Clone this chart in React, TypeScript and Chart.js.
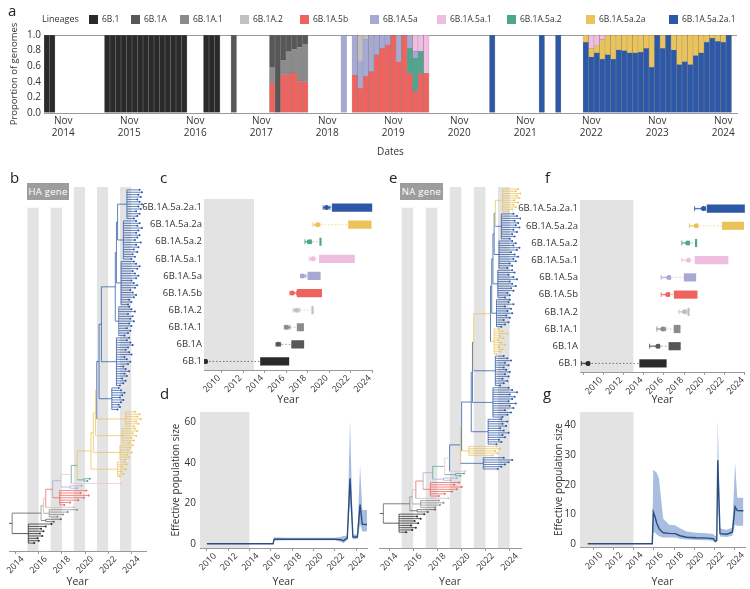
import React, { useEffect, useRef } from 'react';
import { Chart, registerables } from 'chart.js';

Chart.register(...registerables);

const FONT_FAMILY = '"Open Sans", "DejaVu Sans", sans-serif';
const TEXT_COLOR = '#333333';
const BAND_COLOR = '#e3e3e3';
const AXIS_COLOR = '#9a9a9a';

const LINEAGES = ['6B.1', '6B.1A', '6B.1A.1', '6B.1A.2', '6B.1A.5b', '6B.1A.5a', '6B.1A.5a.1', '6B.1A.5a.2', '6B.1A.5a.2a', '6B.1A.5a.2a.1'];
const LINEAGE_COLORS = ['#2a2a2a', '#575757', '#8b8b8b', '#c0c0c0', '#f0625e', '#a6a9d3', '#eebde0', '#4ea68f', '#ebc35b', '#2c58a7'];

// ---------- panel a: monthly lineage proportions ----------
const FIRST_MONTH = [2014, 8];
const MONTH_COUNT = 126;
const MONTHS = Array.from({ length: MONTH_COUNT }, (_, i) => {
  const m = FIRST_MONTH[1] - 1 + i;
  return `${FIRST_MONTH[0] + Math.floor(m / 12)}-${String((m % 12) + 1).padStart(2, '0')}`;
});

const SHARE_6B1: [string, number][] = [
  ['2014-08', 1], ['2014-09', 1], ['2015-07', 1], ['2015-08', 1], ['2015-09', 1], ['2015-10', 1], ['2015-11', 1],
  ['2015-12', 1], ['2016-01', 1], ['2016-02', 1], ['2016-03', 1], ['2016-04', 1], ['2016-05', 1], ['2016-06', 1],
  ['2016-07', 1], ['2016-08', 1], ['2016-09', 1], ['2017-01', 1], ['2017-02', 1], ['2017-03', 1],
];
const SHARE_6B1A: [string, number][] = [
  ['2017-06', 1], ['2018-01', 0.415], ['2018-02', 1], ['2018-03', 0.32], ['2018-04', 0.21], ['2018-05', 0.18], ['2018-06', 0.16], ['2018-07', 0.12],
];
const SHARE_6B1A1: [string, number][] = [
  ['2018-01', 0.2], ['2018-03', 0.19], ['2018-04', 0.29], ['2018-05', 0.3], ['2018-06', 0.43], ['2018-07', 0.48],
];
const SHARE_6B1A2: [string, number][] = [['2019-05', 0.33], ['2019-06', 0.06]];
const SHARE_5B: [string, number][] = [
  ['2018-01', 0.385], ['2018-03', 0.49], ['2018-04', 0.5], ['2018-05', 0.52], ['2018-06', 0.41], ['2018-07', 0.4],
  ['2019-04', 0.49], ['2019-05', 0.32], ['2019-06', 0.47], ['2019-07', 0.53], ['2019-08', 0.745], ['2019-09', 0.83],
  ['2019-10', 0.87], ['2019-11', 1], ['2019-12', 0.66], ['2020-01', 1], ['2020-02', 0.51], ['2020-03', 0.28],
  ['2020-04', 0.51], ['2020-05', 0.51],
];
const SHARE_5A: [string, number][] = [
  ['2019-02', 1], ['2019-04', 0.51], ['2019-05', 0.35], ['2019-06', 0.47], ['2019-07', 0.47], ['2019-08', 0.255],
  ['2019-09', 0.17], ['2019-10', 0.13], ['2019-12', 0.34], ['2020-02', 0.17], ['2020-03', 0.09],
];
const SHARE_5A1: [string, number][] = [
  ['2020-03', 0.21], ['2020-04', 0.21], ['2020-05', 0.49], ['2022-11', 0.17], ['2022-12', 0.14], ['2023-01', 0.06],
];
const SHARE_5A2: [string, number][] = [['2020-02', 0.32], ['2020-03', 0.42], ['2020-04', 0.28]];
const SHARE_5A2A: [string, number][] = [
  ['2022-10', 0.09], ['2022-11', 0.11], ['2022-12', 0.09], ['2023-01', 0.25], ['2023-02', 0.25], ['2023-03', 0.31],
  ['2023-04', 0.19], ['2023-05', 0.2], ['2023-06', 0.23], ['2023-07', 0.23], ['2023-08', 0.22], ['2023-09', 0.17],
  ['2023-10', 0.41], ['2023-12', 0.17], ['2024-02', 0.19], ['2024-03', 0.38], ['2024-04', 0.34], ['2024-05', 0.38],
  ['2024-06', 0.265], ['2024-07', 0.23], ['2024-08', 0.09], ['2024-09', 0.04], ['2024-10', 0.08], ['2024-11', 0.09],
];
const SHARE_5A2A1: [string, number][] = [
  ['2021-05', 1], ['2022-02', 1], ['2022-05', 1], ['2022-10', 0.91], ['2022-11', 0.72], ['2022-12', 0.77],
  ['2023-01', 0.69], ['2023-02', 0.75], ['2023-03', 0.69], ['2023-04', 0.81], ['2023-05', 0.8], ['2023-06', 0.77],
  ['2023-07', 0.77], ['2023-08', 0.78], ['2023-09', 0.83], ['2023-10', 0.59], ['2023-11', 1], ['2023-12', 0.83],
  ['2024-01', 1], ['2024-02', 0.81], ['2024-03', 0.62], ['2024-04', 0.66], ['2024-05', 0.62], ['2024-06', 0.735],
  ['2024-07', 0.77], ['2024-08', 0.91], ['2024-09', 0.96], ['2024-10', 0.92], ['2024-11', 0.91], ['2024-12', 1],
];
const SHARES = [SHARE_6B1, SHARE_6B1A, SHARE_6B1A1, SHARE_6B1A2, SHARE_5B, SHARE_5A, SHARE_5A1, SHARE_5A2, SHARE_5A2A, SHARE_5A2A1];
// bottom-to-top stacking of the lineages within a month
const STACK_ORDER = [9, 4, 7, 5, 8, 6, 3, 2, 1, 0];

// ---------- panels c / f: lineage emergence and circulation ----------
const ROW_LINEAGES = ['6B.1A.5a.2a.1', '6B.1A.5a.2a', '6B.1A.5a.2', '6B.1A.5a.1', '6B.1A.5a', '6B.1A.5b', '6B.1A.2', '6B.1A.1', '6B.1A', '6B.1'];
const SAMPLE_START = [2021.26, 2022.77, 2020.1, 2020.07, 2019.0, 2018.01, 2019.36, 2018.0, 2017.49, 2014.6];
const SAMPLE_END = [2024.96, 2024.88, 2020.24, 2023.33, 2020.15, 2020.28, 2019.46, 2018.6, 2018.62, 2017.23];
const PRE_SAMPLING_END = 2014;

const HA_TMRCA = [2020.73, 2019.9, 2019.12, 2019.44, 2018.5, 2017.55, 2017.95, 2017.03, 2016.25, 2009.49];
const HA_TMRCA_LO = [2020.42, 2019.49, 2018.72, 2019.12, 2018.32, 2017.33, 2017.64, 2016.81, 2016.04, 2009.4];
const HA_TMRCA_HI = [2021.04, 2020.11, 2019.34, 2019.65, 2018.81, 2017.95, 2018.26, 2017.33, 2016.47, 2009.6];

const NA_TMRCA = [2020.9, 2020.18, 2019.35, 2019.42, 2017.48, 2017.38, 2019.03, 2016.89, 2016.4, 2009.49];
const NA_TMRCA_LO = [2020.02, 2019.52, 2018.76, 2018.76, 2016.73, 2016.73, 2018.47, 2016.3, 2015.58, 2008.84];
const NA_TMRCA_HI = [2021.1, 2020.34, 2019.52, 2019.52, 2017.62, 2017.55, 2019.26, 2017.16, 2016.56, 2009.6];

// ---------- panels d / g: effective population size ----------
const HA_NE_YEARS = [2010.0, 2016.2, 2016.3, 2017.5, 2019.0, 2020.5, 2022.0, 2022.6, 2022.8, 2023.0, 2023.15, 2023.41, 2023.68, 2024.1, 2024.35, 2024.56, 2025.0];
const HA_NE_MEAN = [0.2, 0.2, 2.4, 2.4, 2.4, 2.4, 2.4, 2.2, 1.6, 2.6, 2.8, 32.5, 3.5, 3.5, 19.5, 9.8, 9.7];
const HA_NE_LOW = [0.1, 0.1, 1.8, 1.9, 1.9, 1.9, 1.9, 1.2, 0.5, 1.4, 1.8, 22, 2.4, 2.5, 10, 6.2, 6.2];
const HA_NE_HIGH = [0.4, 0.4, 3.4, 3.2, 3.1, 3.1, 3.1, 3.6, 4.2, 4.0, 4.5, 61, 4.8, 4.8, 39, 16.8, 16.8];

const NA_NE_YEARS = [2009.46, 2015.84, 2015.94, 2016.11, 2016.28, 2016.51, 2016.75, 2016.93, 2017.5, 2018.09, 2018.58, 2019.24, 2020.2, 2021.22, 2021.87, 2022.04, 2022.21, 2022.31, 2022.53, 2023.2, 2023.75, 2024.02, 2024.24, 2024.84];
const NA_NE_MEAN = [0.1, 0.1, 10.8, 9.2, 7.0, 5.2, 4.3, 3.8, 3.6, 3.5, 2.8, 2.3, 2.1, 2.0, 1.8, 1.0, 1.2, 28.2, 3.5, 3.3, 4.0, 12.6, 11.3, 11.2];
const NA_NE_LOW = [0.0, 0.0, 4.0, 3.8, 3.2, 2.6, 2.4, 2.2, 2.2, 2.2, 1.8, 1.5, 1.4, 1.3, 1.1, 0.4, 0.5, 16, 2.5, 2.4, 2.8, 6.5, 6.2, 6.2];
const NA_NE_HIGH = [0.3, 0.3, 25, 24.5, 24, 22, 14, 8.5, 6.5, 6.3, 5.3, 4.2, 3.8, 3.6, 3.4, 2.6, 3.0, 42.5, 5.2, 4.8, 5.5, 27.5, 15.6, 15.6];

// ---------- panels b / e: time-scaled trees ----------
// each clade: [lineage index, date it leaves the trunk, crown date, tip dates (bottom to top)]
type Clade = [number, number, number, number[]];

const HA_TREE: Clade[] = [
  [0, 2013.7, 2015.1, [2015.6, 2016.0, 2015.9, 2016.3, 2016.1, 2016.4, 2016.2, 2016.6, 2017.1]],
  [1, 2016.2, 2016.6, [2017.3, 2017.9]],
  [2, 2016.4, 2016.9, [2017.6, 2018.1, 2018.5, 2019.3]],
  [3, 2016.6, 2017.4, [2019.0]],
  [4, 2017.2, 2017.8, [2018.2, 2018.7, 2019.4, 2019.9, 2020.3, 2019.6, 2020.1]],
  [5, 2017.9, 2018.7, [2019.3, 2019.7]],
  [6, 2018.8, 2020.0, [2023.1]],
  [7, 2019.3, 2019.9, [2020.2, 2020.4]],
  [8, 2020.5, 2022.8, [2023.0, 2023.3, 2023.1, 2023.5, 2023.2, 2023.6, 2023.4]],
  [8, 2020.7, 2023.0, [2023.5, 2023.8, 2023.6, 2024.0, 2023.7, 2023.9, 2024.1]],
  [8, 2020.9, 2023.2, [2023.9, 2024.2, 2024.0, 2024.4, 2024.1, 2024.5, 2024.3]],
  [8, 2021.0, 2023.5, [2024.2, 2024.6, 2024.4, 2024.8, 2024.5, 2024.7, 2024.3]],
  [9, 2021.2, 2022.3, [2022.8, 2023.0, 2022.9, 2023.1, 2023.3, 2023.0, 2023.2, 2023.4, 2023.1, 2022.9]],
  [9, 2021.4, 2022.7, [2023.0, 2023.3, 2023.5, 2023.2, 2023.6, 2023.4, 2023.8, 2023.5, 2023.3, 2023.7, 2023.9, 2023.6, 2023.4, 2024.0, 2023.8, 2023.5, 2023.7, 2024.1, 2023.9, 2023.6, 2023.8]],
  [9, 2022.6, 2022.9, [2023.4, 2023.7, 2023.9, 2023.6, 2024.0, 2023.8, 2024.2, 2023.9, 2024.1, 2023.7, 2024.3, 2024.0, 2023.8]],
  [9, 2022.7, 2023.1, [2023.7, 2024.0, 2023.8, 2024.2, 2024.4, 2024.1, 2023.9, 2024.3, 2024.5, 2024.2, 2024.0, 2024.4, 2024.6, 2024.3, 2024.1, 2024.5, 2024.7, 2024.4, 2024.2]],
  [9, 2022.8, 2023.3, [2024.0, 2024.3, 2024.1, 2024.5, 2024.2, 2024.6, 2024.4, 2024.8, 2024.3, 2024.5, 2024.7, 2024.4, 2024.6, 2024.9, 2024.5, 2024.7, 2024.4]],
  [9, 2022.9, 2023.6, [2024.2, 2024.5, 2024.7, 2024.4, 2024.8, 2024.6, 2024.9, 2024.7, 2024.5, 2024.8, 2024.6, 2024.9, 2024.7]],
];

const NA_TREE: Clade[] = [
  [0, 2013.5, 2014.8, [2015.4, 2015.9, 2016.2, 2015.8, 2016.4, 2016.1, 2016.6, 2016.3, 2016.9]],
  [1, 2015.7, 2016.3, [2017.2, 2017.8]],
  [2, 2015.9, 2016.6, [2017.8, 2018.2, 2018.5, 2018.1]],
  [3, 2016.2, 2017.2, [2018.9]],
  [4, 2016.8, 2017.4, [2018.1, 2018.6, 2019.2, 2019.6, 2020.0, 2019.4, 2019.8]],
  [5, 2017.6, 2018.5, [2019.1, 2019.6]],
  [7, 2018.6, 2019.5, [2019.9, 2020.2]],
  [6, 2019.0, 2019.7, [2020.3]],
  [9, 2019.9, 2021.8, [2023.0, 2023.3, 2023.6, 2023.9, 2024.2, 2023.5]],
  [8, 2020.0, 2020.6, [2022.6, 2023.0, 2022.8, 2023.2, 2022.9]],
  [9, 2020.8, 2022.2, [2022.9, 2023.3, 2023.1, 2023.6, 2023.4, 2023.9, 2023.5, 2023.2, 2023.7, 2023.4, 2023.8, 2023.3]],
  [9, 2020.9, 2022.6, [2023.4, 2023.8, 2024.1, 2023.6, 2024.3, 2024.0, 2024.5, 2023.9, 2024.2, 2024.4, 2024.0, 2024.6, 2024.2, 2023.9]],
  [9, 2021.0, 2022.8, [2023.2, 2023.5, 2023.8, 2023.4, 2023.9, 2023.6, 2024.0, 2023.7, 2023.5, 2023.9, 2023.6, 2024.1, 2023.8, 2023.5]],
  [8, 2022.4, 2022.7, [2022.9, 2023.2, 2023.4, 2023.1, 2023.6, 2023.3, 2023.0, 2023.5, 2023.2, 2023.8, 2023.4, 2023.1]],
  [9, 2022.5, 2022.9, [2023.3, 2023.6, 2023.9, 2023.5, 2024.0, 2023.7, 2024.2, 2023.8, 2024.1, 2023.6, 2024.3, 2023.9, 2024.0]],
  [9, 2022.6, 2023.0, [2023.6, 2024.0, 2023.8, 2024.3, 2024.1, 2024.5, 2024.2, 2024.0, 2024.6, 2024.3, 2023.9, 2024.4, 2024.2]],
  [9, 2022.7, 2023.1, [2023.8, 2024.2, 2024.0, 2024.5, 2024.3, 2024.7, 2024.4, 2024.1, 2024.6, 2024.8, 2024.3, 2024.5, 2024.2]],
  [9, 2022.8, 2023.3, [2024.0, 2024.4, 2024.2, 2024.6, 2024.3, 2024.8, 2024.5, 2024.7, 2024.4, 2024.9, 2024.6, 2024.3]],
  [8, 2022.9, 2023.4, [2023.9, 2024.2, 2024.5, 2024.3, 2024.7, 2024.4, 2024.8, 2024.6, 2024.9, 2024.5, 2024.7]],
];

// alternate calendar-year shading behind the trees
const TREE_BANDS = [[2015, 2016], [2017, 2018], [2019, 2020], [2021, 2022], [2023, 2024]];

// ---------- shared helpers ----------
const font = (size: number) => ({ family: FONT_FAMILY, size });

const baseOptions = {
  animation: false,
  responsive: false,
  maintainAspectRatio: false,
  plugins: { legend: { display: false }, tooltip: { enabled: false } },
};

const yearAxis = (min: number, max: number, height: number, labelOffset: number) => ({
  type: 'linear',
  min,
  max,
  offset: false,
  grid: { display: true, drawOnChartArea: false, drawTicks: true, tickLength: 3, color: AXIS_COLOR },
  border: { display: true, color: AXIS_COLOR },
  ticks: {
    stepSize: 2,
    includeBounds: false,
    autoSkip: false,
    minRotation: 45,
    maxRotation: 45,
    labelOffset,
    padding: 0,
    font: font(8.8),
    color: TEXT_COLOR,
    callback: (v: number) => (Number.isInteger(v) && v % 2 === 0 ? String(v) : null),
  },
  title: { display: true, text: 'Year', font: font(10.5), color: TEXT_COLOR, padding: { top: 0, bottom: 1 } },
  afterFit: (s: any) => {
    s.height = height;
    s.paddingLeft = 0;
    s.paddingRight = 0;
  },
});

function proportionConfig() {
  return {
    type: 'bar',
    data: {
      labels: MONTHS,
      datasets: STACK_ORDER.map((li) => ({
        label: LINEAGES[li],
        data: SHARES[li].map(([m, v]) => ({ x: m, y: v })),
        backgroundColor: LINEAGE_COLORS[li],
        borderColor: 'rgba(70,70,70,0.55)',
        borderWidth: 0.5,
        barPercentage: 1,
        categoryPercentage: 1,
      })),
    },
    options: {
      ...baseOptions,
      layout: { padding: { top: 35, right: 13, left: 0, bottom: 0 } },
      scales: {
        x: {
          stacked: true,
          grid: { display: false, drawTicks: false },
          border: { display: true, color: AXIS_COLOR },
          ticks: {
            autoSkip: false,
            maxRotation: 0,
            minRotation: 0,
            padding: 2,
            font: font(10),
            color: TEXT_COLOR,
            callback: (_v: number, i: number) => (MONTHS[i].endsWith('-11') ? ['Nov', MONTHS[i].slice(0, 4)] : null),
          },
          title: { display: true, text: 'Dates', font: font(10), color: TEXT_COLOR, padding: { top: 0, bottom: 2 } },
          afterFit: (s: any) => {
            s.height = 47;
            s.paddingLeft = 0;
            s.paddingRight = 0;
          },
        },
        y: {
          stacked: true,
          min: 0,
          max: 1,
          grid: {
            drawTicks: false,
            color: (ctx: any) => (ctx.tick && ctx.tick.value === 1 ? AXIS_COLOR : 'rgba(0,0,0,0)'),
          },
          border: { display: false },
          ticks: { stepSize: 0.2, padding: 3, font: font(10), color: TEXT_COLOR, callback: (v: number) => Number(v).toFixed(1) },
          title: { display: true, text: 'Proportion of genomes', font: font(9.5), color: TEXT_COLOR, padding: { top: 9, bottom: 0 } },
          afterFit: (s: any) => {
            s.width = 44;
          },
        },
      },
    },
  };
}

function treeConfig(p: {
  clades: Clade[];
  xMin: number;
  xMax: number;
  yMin: number;
  yMax: number;
  shortBandTop: number;
  padding: any;
  axisHeight: number;
}) {
  const byLineage: { x: number; y: number }[][] = LINEAGES.map(() => []);
  const tipsByLineage: { x: number; y: number }[][] = LINEAGES.map(() => []);
  const seg = (lin: number, x0: number, y0: number, x1: number, y1: number) => {
    byLineage[lin].push({ x: x0, y: y0 }, { x: x1, y: y1 }, { x: NaN, y: NaN });
  };
  let row = 0;
  const stems = p.clades.map(([lin, attach, crown, tips]) => {
    const first = row;
    const last = row + tips.length - 1;
    tips.forEach((t, j) => {
      seg(lin, crown, first + j, t, first + j);
      tipsByLineage[lin].push({ x: t, y: first + j });
    });
    if (last > first) seg(lin, crown, first, crown, last);
    const mid = (first + last) / 2;
    seg(lin, attach, mid, crown, mid);
    row += tips.length;
    return mid;
  });
  const trunkY = stems.slice();
  for (let k = p.clades.length - 2; k >= 0; k--) trunkY[k] = (stems[k] + trunkY[k + 1]) / 2;
  for (let k = 0; k < p.clades.length - 1; k++) {
    const lin = p.clades[k + 1][0];
    const a = p.clades[k][1];
    const b = p.clades[k + 1][1];
    seg(lin, a, stems[k], a, trunkY[k + 1]);
    if (b > a) seg(lin, a, trunkY[k + 1], b, trunkY[k + 1]);
  }
  seg(p.clades[0][0], p.clades[0][1] - 0.3, trunkY[0], p.clades[0][1], trunkY[0]);

  const bands = TREE_BANDS.map(([a, b], i) => ({
    type: 'line',
    data: [{ x: a, y: i < 2 ? p.shortBandTop : p.yMax }, { x: b, y: i < 2 ? p.shortBandTop : p.yMax }],
    fill: 'start',
    backgroundColor: BAND_COLOR,
    borderColor: 'rgba(0,0,0,0)',
    borderWidth: 0,
    pointRadius: 0,
    order: 10,
  }));
  const branches = byLineage
    .map((pts, lin) => ({
      type: 'scatter',
      data: pts,
      showLine: true,
      spanGaps: false,
      borderColor: LINEAGE_COLORS[lin],
      borderWidth: 0.75,
      pointRadius: 0,
      order: 2,
    }))
    .filter((d) => d.data.length > 0);
  const tipMarks = tipsByLineage
    .map((pts, lin) => ({
      type: 'scatter',
      data: pts,
      showLine: false,
      pointRadius: 1,
      pointBackgroundColor: LINEAGE_COLORS[lin],
      pointBorderWidth: 0,
      order: 1,
    }))
    .filter((d) => d.data.length > 0);

  return {
    type: 'scatter',
    data: { datasets: [...bands, ...branches, ...tipMarks] },
    options: {
      ...baseOptions,
      layout: { padding: p.padding },
      scales: {
        x: yearAxis(p.xMin, p.xMax, p.axisHeight, 7),
        y: { type: 'linear', display: false, min: p.yMin, max: p.yMax },
      },
    },
  };
}

function emergenceConfig(p: {
  xMin: number;
  tmrca: number[];
  lo: number[];
  hi: number[];
  yAxisWidth: number;
  axisHeight: number;
  padding: any;
}) {
  const colors = ROW_LINEAGES.map((n) => LINEAGE_COLORS[LINEAGES.indexOf(n)]);
  const datasets: any[] = [
    {
      type: 'line',
      yAxisID: 'band',
      data: [{ x: p.xMin, y: 1 }, { x: PRE_SAMPLING_END, y: 1 }],
      fill: 'start',
      backgroundColor: BAND_COLOR,
      borderColor: 'rgba(0,0,0,0)',
      borderWidth: 0,
      pointRadius: 0,
      order: 10,
    },
    {
      type: 'bar',
      indexAxis: 'y',
      data: ROW_LINEAGES.map((n, i) => ({ y: n, x: [SAMPLE_START[i], SAMPLE_END[i]] })),
      backgroundColor: colors,
      borderWidth: 0,
      barThickness: 7.5,
      minBarLength: 1.5,
      order: 5,
    },
  ];
  ROW_LINEAGES.forEach((n, i) => {
    datasets.push({
      type: 'line',
      data: [{ x: p.tmrca[i], y: n }, { x: SAMPLE_START[i], y: n }],
      borderColor: colors[i] + '99',
      borderWidth: 1,
      borderDash: [1.5, 2],
      pointRadius: 0,
      order: 4,
    });
    datasets.push({
      type: 'line',
      data: [{ x: p.lo[i], y: n }, { x: p.hi[i], y: n }],
      borderColor: colors[i] + 'cc',
      borderWidth: 1.4,
      pointStyle: 'line',
      pointRotation: 90,
      pointRadius: 2.4,
      pointBorderColor: colors[i] + 'cc',
      pointBorderWidth: 1.1,
      order: 3,
    });
  });
  datasets.push({
    type: 'line',
    data: ROW_LINEAGES.map((n, i) => ({ x: p.tmrca[i], y: n })),
    showLine: false,
    pointRadius: 2.5,
    pointBackgroundColor: colors,
    pointBorderWidth: 0,
    order: 2,
  });

  return {
    type: 'bar',
    data: { datasets },
    options: {
      ...baseOptions,
      layout: { padding: p.padding },
      scales: {
        x: yearAxis(p.xMin, 2025, p.axisHeight, 8),
        y: {
          type: 'category',
          labels: ROW_LINEAGES,
          offset: true,
          grid: { display: false, drawTicks: false },
          border: { display: true, color: AXIS_COLOR },
          ticks: { autoSkip: false, padding: 2, font: font(9.5), color: TEXT_COLOR },
          afterFit: (s: any) => {
            s.width = p.yAxisWidth;
          },
        },
        band: { type: 'linear', display: false, min: 0, max: 1 },
      },
    },
  };
}

function neConfig(p: {
  xMin: number;
  years: number[];
  mean: number[];
  low: number[];
  high: number[];
  yMin: number;
  yMax: number;
  yStep: number;
  yAxisWidth: number;
  titlePad: number;
  axisHeight: number;
  padding: any;
}) {
  const pts = (vals: number[]) => p.years.map((x, i) => ({ x, y: vals[i] }));
  return {
    type: 'line',
    data: {
      datasets: [
        {
          data: [{ x: p.xMin, y: p.yMax }, { x: PRE_SAMPLING_END, y: p.yMax }],
          fill: 'start',
          backgroundColor: BAND_COLOR,
          borderColor: 'rgba(0,0,0,0)',
          borderWidth: 0,
          pointRadius: 0,
          order: 10,
        },
        { data: pts(p.high), fill: false, borderColor: 'rgba(0,0,0,0)', borderWidth: 0, pointRadius: 0, order: 3 },
        {
          data: pts(p.low),
          fill: '-1',
          backgroundColor: 'rgba(96,134,196,0.55)',
          borderColor: 'rgba(0,0,0,0)',
          borderWidth: 0,
          pointRadius: 0,
          order: 2,
        },
        { data: pts(p.mean), borderColor: '#2b4e80', borderWidth: 1.4, pointRadius: 0, fill: false, order: 1 },
      ],
    },
    options: {
      ...baseOptions,
      layout: { padding: p.padding },
      scales: {
        x: yearAxis(p.xMin, 2025, p.axisHeight, 8),
        y: {
          type: 'linear',
          min: p.yMin,
          max: p.yMax,
          grid: { display: false, drawTicks: false },
          border: { display: false },
          ticks: { stepSize: p.yStep, includeBounds: false, padding: 4, font: font(10), color: TEXT_COLOR },
          title: {
            display: true,
            text: 'Effective population size',
            font: font(10),
            color: TEXT_COLOR,
            padding: { top: p.titlePad, bottom: 0 },
          },
          afterFit: (s: any) => {
            s.width = p.yAxisWidth;
          },
        },
      },
    },
  };
}

function ChartCanvas(props: { left: number; top: number; width: number; height: number; config: () => any }) {
  const ref = useRef<HTMLCanvasElement>(null);
  useEffect(() => {
    const chart = new Chart(ref.current as HTMLCanvasElement, props.config() as any);
    return () => chart.destroy();
  }, []);
  return (
    <canvas
      ref={ref}
      width={props.width}
      height={props.height}
      style={{ position: 'absolute', left: props.left, top: props.top, width: props.width, height: props.height }}
    />
  );
}

const LEGEND_LEFT = [89, 131, 180, 240, 300, 370, 437, 507, 586, 669];

function Letter(props: { x: number; y: number; text: string }) {
  return (
    <div style={{ position: 'absolute', left: props.x, top: props.y, fontSize: 15, lineHeight: '15px', color: '#222' }}>
      {props.text}
    </div>
  );
}

function GeneTag(props: { x: number; y: number; w: number; text: string }) {
  return (
    <div
      style={{
        position: 'absolute',
        left: props.x,
        top: props.y,
        width: props.w,
        height: 17,
        background: '#9d9d9d',
        color: '#ffffff',
        fontSize: 9.5,
        lineHeight: '17px',
        textAlign: 'center',
        letterSpacing: 0.3,
      }}
    >
      {props.text}
    </div>
  );
}

export default function App() {
  return (
    <div
      style={{
        position: 'absolute',
        left: 0,
        top: 0,
        width: 750,
        height: 589,
        background: '#ffffff',
        overflow: 'hidden',
        fontFamily: FONT_FAMILY,
        color: TEXT_COLOR,
      }}
    >
      <ChartCanvas left={0} top={0} width={750} height={160} config={proportionConfig} />

      <div style={{ position: 'absolute', left: 42, top: 13, fontSize: 9, lineHeight: '12px' }}>Lineages</div>
      {LINEAGES.map((name, i) => (
        <div key={name} style={{ position: 'absolute', left: LEGEND_LEFT[i], top: 14, display: 'flex', alignItems: 'center' }}>
          <div style={{ width: 9, height: 9, background: LINEAGE_COLORS[i], marginRight: 4 }} />
          <div style={{ fontSize: 8.5, lineHeight: '10px' }}>{name}</div>
        </div>
      ))}

      <ChartCanvas
        left={0}
        top={183}
        width={150}
        height={406}
        config={() =>
          treeConfig({
            clades: HA_TREE,
            xMin: 2013.43,
            xMax: 2025.25,
            yMin: -3.3,
            yMax: 149.2,
            shortBandTop: 140.5,
            padding: { left: 9, right: 3, top: 0, bottom: 0 },
            axisHeight: 38,
          })
        }
      />
      <ChartCanvas
        left={375}
        top={183}
        width={150}
        height={406}
        config={() =>
          treeConfig({
            clades: NA_TREE,
            xMin: 2013.14,
            xMax: 2024.93,
            yMin: -7,
            yMax: 152.9,
            shortBandTop: 143.7,
            padding: { left: 3.7, right: 3, top: 0, bottom: 0 },
            axisHeight: 41,
          })
        }
      />

      <ChartCanvas
        left={130}
        top={190}
        width={250}
        height={217}
        config={() =>
          emergenceConfig({
            xMin: 2009.35,
            tmrca: HA_TMRCA,
            lo: HA_TMRCA_LO,
            hi: HA_TMRCA_HI,
            yAxisWidth: 74,
            axisHeight: 37,
            padding: { left: 0, right: 7.5, top: 9, bottom: 0 },
          })
        }
      />
      <ChartCanvas
        left={505}
        top={190}
        width={245}
        height={217}
        config={() =>
          emergenceConfig({
            xMin: 2008.7,
            tmrca: NA_TMRCA,
            lo: NA_TMRCA_LO,
            hi: NA_TMRCA_HI,
            yAxisWidth: 75,
            axisHeight: 35,
            padding: { left: 0, right: 5, top: 10, bottom: 0 },
          })
        }
      />

      <ChartCanvas
        left={160}
        top={402}
        width={215}
        height={187}
        config={() =>
          neConfig({
            xMin: 2009.35,
            years: HA_NE_YEARS,
            mean: HA_NE_MEAN,
            low: HA_NE_LOW,
            high: HA_NE_HIGH,
            yMin: -1.9,
            yMax: 65.2,
            yStep: 20,
            yAxisWidth: 40,
            titlePad: 10,
            axisHeight: 41,
            padding: { left: 0, right: 8, top: 7, bottom: 0 },
          })
        }
      />
      <ChartCanvas
        left={540}
        top={402}
        width={210}
        height={187}
        config={() =>
          neConfig({
            xMin: 2008.7,
            years: NA_NE_YEARS,
            mean: NA_NE_MEAN,
            low: NA_NE_LOW,
            high: NA_NE_HIGH,
            yMin: -1,
            yMax: 44.5,
            yStep: 10,
            yAxisWidth: 40,
            titlePad: 13.5,
            axisHeight: 42,
            padding: { left: 0, right: 5, top: 10, bottom: 0 },
          })
        }
      />

      <GeneTag x={27} y={183} w={42} text="HA gene" />
      <GeneTag x={400} y={183} w={43} text="NA gene" />

      <Letter x={8} y={3} text="a" />
      <Letter x={10} y={170} text="b" />
      <Letter x={160} y={170} text="c" />
      <Letter x={160} y={386} text="d" />
      <Letter x={389} y={170} text="e" />
      <Letter x={545} y={170} text="f" />
      <Letter x={543} y={386} text="g" />
    </div>
  );
}
